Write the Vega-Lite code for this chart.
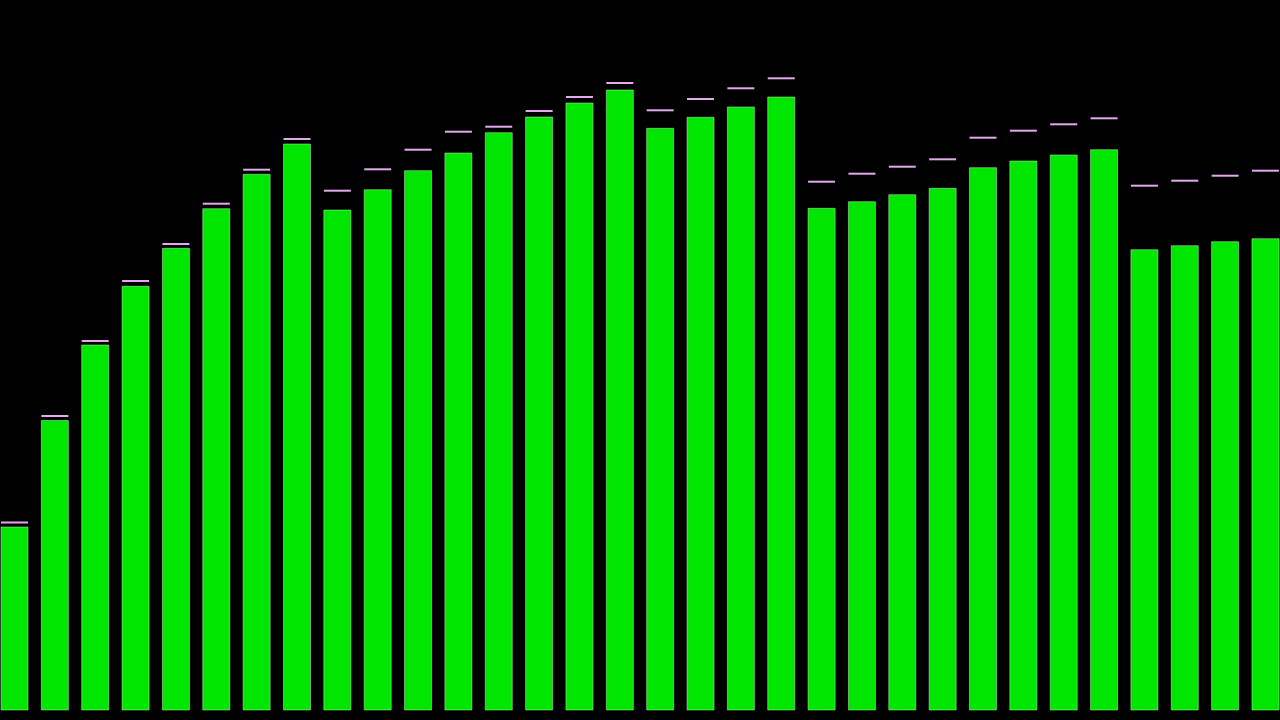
{
  "$schema": "https://vega.github.io/schema/vega-lite/v6.json",
  "width": 1280,
  "height": 720,
  "autosize": {"type": "fit", "contains": "padding"},
  "padding": 0,
  "background": "#000000",
  "config": {"view": {"stroke": null}},
  "data": {
    "values": [
      {"i": 1, "v": 183, "m": 187.5},
      {"i": 2, "v": 289.5, "m": 294},
      {"i": 3, "v": 365, "m": 369},
      {"i": 4, "v": 423.7, "m": 429},
      {"i": 5, "v": 461.7, "m": 466},
      {"i": 6, "v": 501.3, "m": 506.3},
      {"i": 7, "v": 535.7, "m": 540.3},
      {"i": 8, "v": 566, "m": 571},
      {"i": 9, "v": 500, "m": 519.3},
      {"i": 10, "v": 520.3, "m": 540.7},
      {"i": 11, "v": 539.3, "m": 560.3},
      {"i": 12, "v": 557, "m": 578.3},
      {"i": 13, "v": 577.3, "m": 583.3},
      {"i": 14, "v": 593, "m": 599},
      {"i": 15, "v": 607, "m": 613},
      {"i": 16, "v": 620, "m": 627},
      {"i": 17, "v": 581.7, "m": 599.7},
      {"i": 18, "v": 592.7, "m": 611},
      {"i": 19, "v": 603, "m": 621.7},
      {"i": 20, "v": 613, "m": 631.7},
      {"i": 21, "v": 501.7, "m": 528.3},
      {"i": 22, "v": 508.3, "m": 536.3},
      {"i": 23, "v": 515.3, "m": 543.3},
      {"i": 24, "v": 521.7, "m": 550.7},
      {"i": 25, "v": 542.3, "m": 572.3},
      {"i": 26, "v": 549, "m": 579.3},
      {"i": 27, "v": 555, "m": 585.7},
      {"i": 28, "v": 560.3, "m": 591.7},
      {"i": 29, "v": 460.3, "m": 524.3},
      {"i": 30, "v": 464.3, "m": 529.3},
      {"i": 31, "v": 468.3, "m": 534.3},
      {"i": 32, "v": 471.3, "m": 539.3}
    ]
  },
  "encoding": {
    "x": {
      "field": "i",
      "type": "ordinal",
      "axis": null,
      "scale": {"paddingInner": 0.33, "paddingOuter": 0}
    }
  },
  "layer": [
    {
      "mark": {"type": "bar", "color": "#00e600", "stroke": "#b8ffb0", "strokeWidth": 0.5},
      "encoding": {
        "y": {
          "field": "v",
          "type": "quantitative",
          "axis": null,
          "scale": {"domain": [-10, 710], "nice": false, "zero": false}
        }
      }
    },
    {
      "mark": {"type": "tick", "color": "#e2aaec", "thickness": 2, "size": 27, "opacity": 1},
      "encoding": {
        "y": {"field": "m", "type": "quantitative", "axis": null}
      }
    }
  ]
}
